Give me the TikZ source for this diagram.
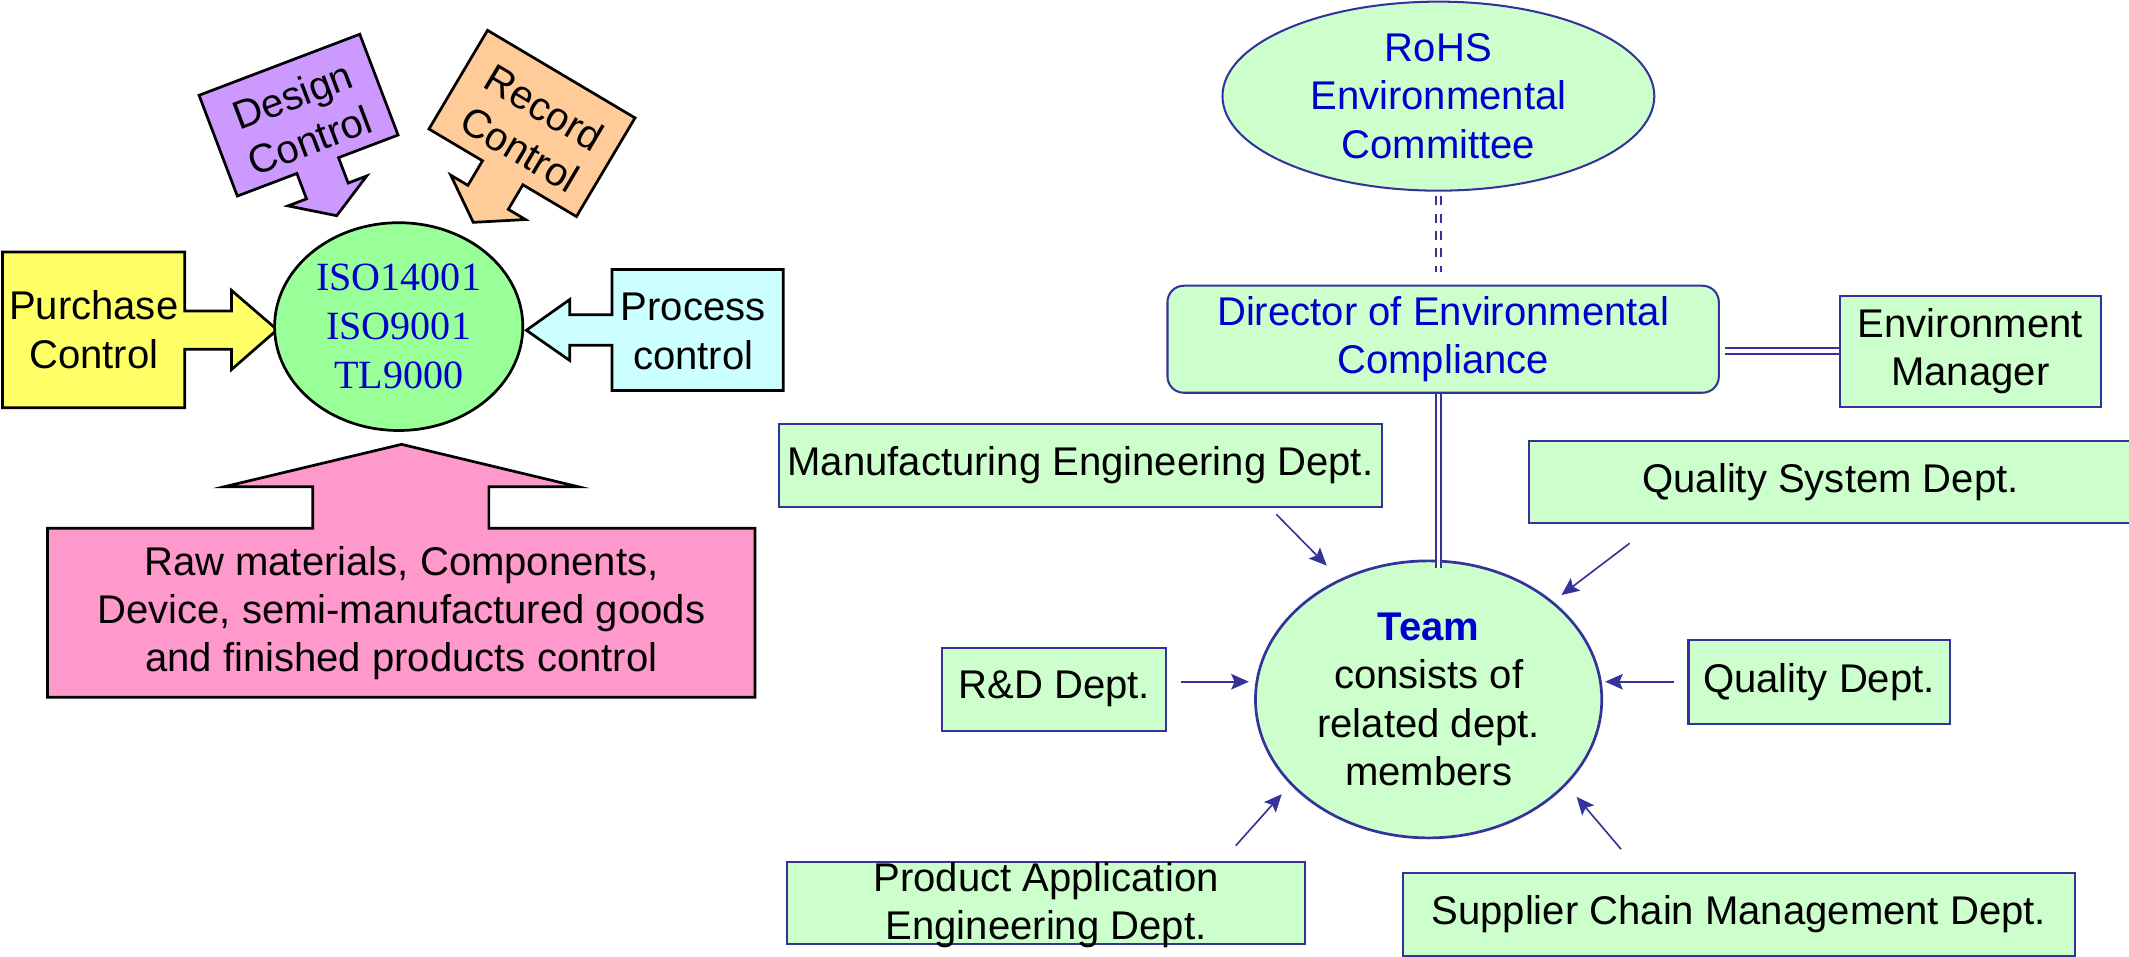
\documentclass[tikz,border=0pt]{standalone}
\usepackage{fontspec}
\setmainfont{Liberation Sans}
\newfontfamily\serifiso{Liberation Serif}
\usetikzlibrary{arrows.meta,shapes.geometric}
\definecolor{pur}{HTML}{CC99FF}
\definecolor{ora}{HTML}{FFCC99}
\definecolor{yel}{HTML}{FFFF66}
\definecolor{isog}{HTML}{99FF99}
\definecolor{cya}{HTML}{CCFFFF}
\definecolor{pnk}{HTML}{FF99CC}
\definecolor{lgr}{HTML}{CCFFCC}
\definecolor{edgeblue}{HTML}{333399}
\definecolor{txtblue}{HTML}{0000CC}
\begin{document}
\begin{tikzpicture}[x=1pt,y=-1pt,
  bigfont/.style={font=\fontsize{29.5}{35.5}\selectfont},
  leftshape/.style={draw=black, line width=2pt, line join=miter},
  lbl/.style={bigfont, align=center, inner sep=0pt},
  dept/.style={draw=edgeblue, fill=lgr, line width=1.5pt, inner sep=0pt, align=center, bigfont},
  oval/.style={ellipse, inner sep=0pt, align=center, bigfont},
  feed/.style={draw=edgeblue, line width=1.2pt, -{Stealth[length=13pt,width=11.5pt,inset=2.5pt]}},
  dline/.style={draw=edgeblue, double=white, double distance=2.5pt, line width=1.6pt},
]
\useasboundingbox (0,0) rectangle (1567.75,704.7);
\clip (0,0) rectangle (1567.75,704.7);

% ---------- left part ----------
\path[leftshape, fill=yel] (1.9,185.5) -- (136,185.5) -- (136,229) -- (170.4,229) -- (170.4,213.8) -- (204.1,242.8) -- (170.4,272.2) -- (170.4,257.2) -- (136,257.2) -- (136,300.2) -- (1.9,300.2) -- cycle;
\node[lbl] (purchase) at (69,242.7) {Purchase\\Control};

\path[leftshape, fill=cya] (576.8,198.5) -- (450.6,198.5) -- (450.6,231.7) -- (419.5,231.7) -- (419.5,220.6) -- (387.6,243.2) -- (419.5,265.4) -- (419.5,254.3) -- (450.6,254.3) -- (450.6,287.5) -- (576.8,287.5) -- cycle;
\node[lbl] (process) at (510.5,244) {Process\\control};

\node[oval, draw=black, line width=2pt, fill=isog, minimum width=182.8pt, minimum height=153pt,
      font=\serifiso\fontsize{29.5}{36}\selectfont, text=txtblue] (iso) at (293.6,240.5) {ISO14001\\ISO9001\\TL9000};

\begin{scope}[shift={(219.85,84.8)}, rotate=20.8]
  \path[leftshape, fill=pur] (-63.3,-39.7) -- (63.3,-39.7) -- (63.3,39.7) -- (16.4,39.7) -- (16.4,59.7) -- (31,59.7) -- (0,79.2) -- (-31,59.7) -- (-16.4,59.7) -- (-16.4,39.7) -- (-63.3,39.7) -- cycle;
  \node[lbl, transform shape] (design) at (1,2.5) {Design\\Control};
\end{scope}

\begin{scope}[shift={(391.75,90.9)}, rotate=-30.7]
  \path[leftshape, fill=ora] (-63.15,-42.25) -- (63.15,-42.25) -- (63.15,42.25) -- (17.3,42.25) -- (17.3,63.3) -- (32,63.3) -- (0,84.7) -- (-32,63.3) -- (-17.3,63.3) -- (-17.3,42.25) -- (-63.15,42.25) -- cycle;
  \node[lbl, transform shape] (record) at (2,3) {Record\\Control};
\end{scope}

\path[leftshape, fill=pnk] (34.9,389) -- (230.3,389) -- (230.3,358.4) -- (165.3,358.4) -- (295.7,327.2) -- (425.7,358.4) -- (360,358.4) -- (360,389) -- (556,389) -- (556,513.5) -- (34.9,513.5) -- cycle;
\node[lbl] (raw) at (295.5,451.6) {Raw materials, Components,\\Device, semi-manufactured goods\\and finished products control};

% ---------- right part ----------
\node[oval, draw=edgeblue, fill=lgr, line width=1.5pt, minimum width=318pt, minimum height=139.2pt, text=txtblue] (rohs) at (1059.2,70.8) {RoHS\\Environmental\\Committee};

\node[dept, rounded corners=12pt, minimum width=406pt, minimum height=78.8pt, text=txtblue] (dir) at (1062.7,249.8) {Director of Environmental\\Compliance};

\node[dept, minimum width=192.2pt, minimum height=81.8pt] (envm) at (1450.9,258.6) {Environment\\Manager};
\node[dept, minimum width=444.1pt, minimum height=61pt] (mfg) at (795.6,342.5) {Manufacturing Engineering Dept.};
\node[dept, minimum width=444pt, minimum height=60.7pt] (qsys) at (1348,355.1) {Quality System Dept.};
\node[dept, minimum width=164.6pt, minimum height=61pt] (rd) at (776.3,507.5) {R\&D Dept.};
\node[dept, minimum width=192.3pt, minimum height=61.4pt] (qd) at (1339.5,502.3) {Quality Dept.};
\node[dept, minimum width=381.5pt, minimum height=60.7pt] (pae) at (770.3,665) {};
\node[lbl] (paet) at (770.3,666.5) {Product Application\\Engineering Dept.};
\node[dept, minimum width=495.2pt, minimum height=61.5pt] (scm) at (1280.4,673.3) {Supplier Chain Management Dept.};

\node[oval, draw=edgeblue, fill=lgr, line width=2pt, minimum width=255pt, minimum height=204pt] (team) at (1052,515)
  {\textcolor{txtblue}{\bfseries Team}\\consists of\\related dept.\\members};

% connectors
\draw[dline, dash pattern=on 6.6pt off 6.2pt, shorten <=3.4pt, shorten >=9pt] (rohs.south) -- (dir.north -| rohs.south);
\draw[dline, shorten >=-6pt] (dir.south -| rohs.south) -- (team.north -| rohs.south);
\draw[dline, shorten <=4pt] (dir.east |- envm.west) -- (envm.west);

\coordinate (a1s) at (939.8,378.7); \coordinate (a1e) at (977,416.5);
\coordinate (a2s) at (1200.1,400); \coordinate (a2e) at (1149.8,438.2);
\coordinate (a3s) at (869.8,502); \coordinate (a3e) at (919.6,502);
\coordinate (a4s) at (1232.6,502); \coordinate (a4e) at (1182,502);
\coordinate (a5s) at (910,622.7); \coordinate (a5e) at (943.8,584.8);
\coordinate (a6s) at (1193.7,625.3); \coordinate (a6e) at (1161,586.8);
\draw[feed] (a1s) -- (a1e);
\draw[feed] (a2s) -- (a2e);
\draw[feed] (a3s) -- (a3e);
\draw[feed] (a4s) -- (a4e);
\draw[feed] (a5s) -- (a5e);
\draw[feed] (a6s) -- (a6e);
\end{tikzpicture}
\end{document}
